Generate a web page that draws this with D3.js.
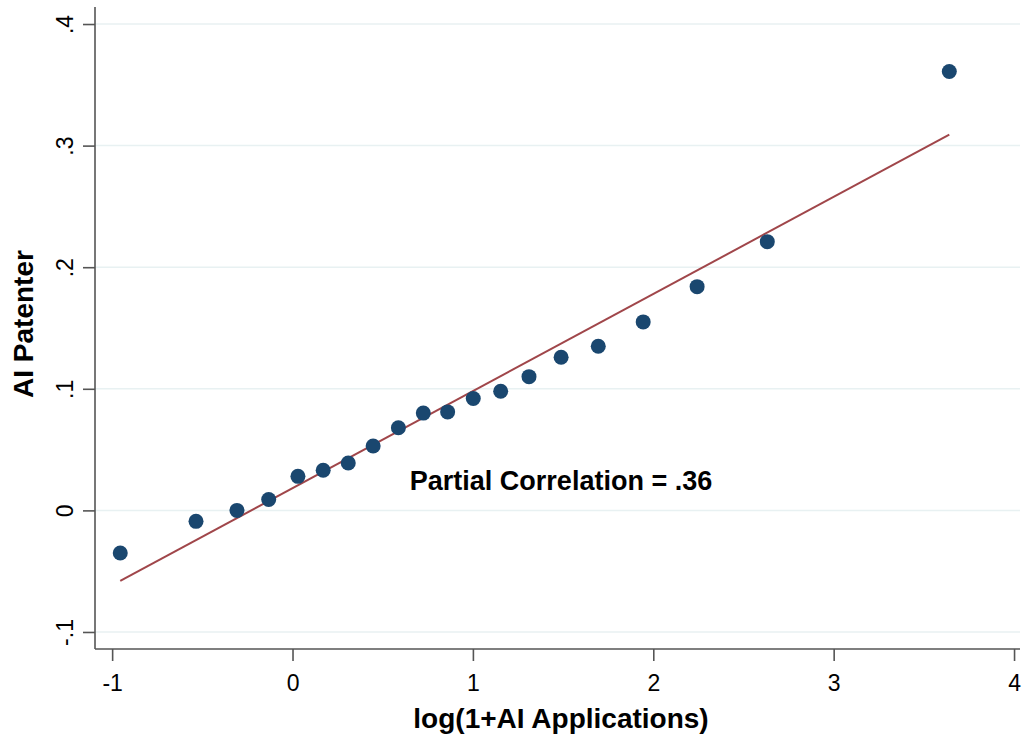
<!DOCTYPE html>
<html>
<head>
<meta charset="utf-8">
<script src="https://cdn.jsdelivr.net/npm/d3@7"></script>
<style>
  body { margin: 0; background: #fff; }
  svg text { font-family: "Liberation Sans", Arial, sans-serif; fill: #000; }
</style>
</head>
<body>
<div id="chart"></div>
<script>
// binned scatter values
var xVals = [-0.955, -0.535, -0.308, -0.132, 0.030, 0.170, 0.309, 0.447, 0.587, 0.725,
             0.860, 1.002, 1.154, 1.311, 1.489, 1.695, 1.944, 2.243, 2.632, 3.641];
var yVals = [-0.035, -0.009, 0.000, 0.009, 0.028, 0.033, 0.039, 0.053, 0.068, 0.080,
             0.081, 0.092, 0.098, 0.110, 0.126, 0.135, 0.155, 0.184, 0.221, 0.361];
// fitted line endpoints
var fitX = [-0.955, 3.641];
var fitY = [-0.058, 0.309];

var xTicks = [-1, 0, 1, 2, 3, 4];
var xTickLabels = ["-1", "0", "1", "2", "3", "4"];
var yTicks = [-0.1, 0, 0.1, 0.2, 0.3, 0.4];
var yTickLabels = ["-.1", "0", ".1", ".2", ".3", ".4"];

var W = 1023, H = 740;
// plot area edges in pixels
var pLeft = 95, pRight = 1020, pTop = 7, pBottom = 649;

var x = d3.scaleLinear().domain([-1.095, 4.033]).range([pLeft, pRight]);
var y = d3.scaleLinear().domain([-0.114, 0.414]).range([pBottom, pTop]);

var svg = d3.select("#chart").append("svg")
    .attr("width", W)
    .attr("height", H);

// grid lines
svg.append("g")
    .selectAll("line")
    .data(yTicks)
    .enter()
    .append("line")
    .attr("x1", pLeft)
    .attr("x2", pRight)
    .attr("y1", d => y(d))
    .attr("y2", d => y(d))
    .attr("stroke", "#e8f1f2")
    .attr("stroke-width", 1.5);

// y axis
var yAxis = d3.axisLeft(y)
    .tickValues(yTicks)
    .tickSize(12)
    .tickFormat((d, i) => yTickLabels[i]);
var gy = svg.append("g")
    .attr("transform", "translate(" + pLeft + ",0)")
    .call(yAxis);
gy.select(".domain").attr("d", "M0," + pTop + "V" + pBottom);
gy.selectAll(".tick text")
    .attr("transform", "translate(-22,0) rotate(-90)")
    .attr("x", 0)
    .attr("y", 0)
    .attr("dy", 0)
    .attr("text-anchor", "middle")
    .style("font-size", "23px");

// x axis
var xAxis = d3.axisBottom(x)
    .tickValues(xTicks)
    .tickSize(12)
    .tickFormat((d, i) => xTickLabels[i]);
var gx = svg.append("g")
    .attr("transform", "translate(0," + pBottom + ")")
    .call(xAxis);
gx.select(".domain").attr("d", "M" + pLeft + ",0H" + pRight);
gx.selectAll(".tick text")
    .attr("y", 42)
    .attr("dy", 0)
    .style("font-size", "23px");

svg.selectAll(".domain, .tick line")
    .attr("stroke", "#555")
    .attr("stroke-width", 1.6);

// fit line
svg.append("line")
    .attr("x1", x(fitX[0]))
    .attr("y1", y(fitY[0]))
    .attr("x2", x(fitX[1]))
    .attr("y2", y(fitY[1]))
    .attr("stroke", "#a0464a")
    .attr("stroke-width", 2);

// dots
svg.append("g")
    .selectAll("circle")
    .data(xVals.map((d, i) => [d, yVals[i]]))
    .enter()
    .append("circle")
    .attr("cx", d => x(d[0]))
    .attr("cy", d => y(d[1]))
    .attr("r", 7.5)
    .attr("fill", "#1a476f");

// annotation
svg.append("text")
    .attr("x", 561)
    .attr("y", 490)
    .attr("text-anchor", "middle")
    .style("font-size", "27px")
    .style("font-weight", "bold")
    .text("Partial Correlation = .36");

// axis titles
svg.append("text")
    .attr("x", 561)
    .attr("y", 728)
    .attr("text-anchor", "middle")
    .style("font-size", "28px")
    .style("font-weight", "bold")
    .text("log(1+AI Applications)");

svg.append("text")
    .attr("transform", "translate(33,324) rotate(-90)")
    .attr("text-anchor", "middle")
    .style("font-size", "28px")
    .style("font-weight", "bold")
    .text("AI Patenter");
</script>
</body>
</html>
